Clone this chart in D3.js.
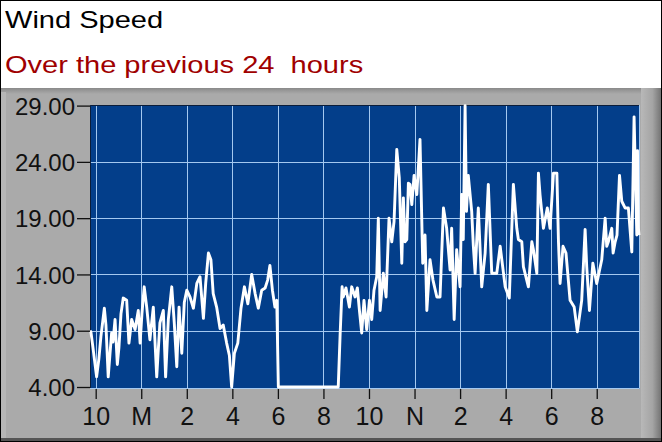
<!DOCTYPE html>
<html>
<head>
<meta charset="utf-8">
<script src="https://cdn.jsdelivr.net/npm/d3@7"></script>
<style>
  body { margin: 0; background: #ffffff; }
  text { font-family: "Liberation Sans", Arial, sans-serif; white-space: pre; }
</style>
</head>
<body>
<div id="graph_plot"></div>
<script>
// hours after 10 PM (negative = before 10 PM)
var hours = [-0.25, -0.21, -0.12, 0.04, 0.14, 0.23, 0.38, 0.45, 0.55, 0.63, 0.70, 0.76, 0.85, 0.95, 1.02, 1.11,
  1.21, 1.36, 1.46, 1.58, 1.73, 1.87, 1.95, 2.03, 2.13, 2.24, 2.38, 2.53, 2.68, 2.74, 2.82, 2.97, 3.07,
  3.19, 3.34, 3.45, 3.56, 3.66, 3.78, 3.89, 4.00, 4.14, 4.29, 4.44, 4.58, 4.73, 4.83, 4.95, 5.06, 5.16,
  5.31, 5.46, 5.60, 5.75, 5.87, 5.97, 6.09, 6.24, 6.38, 6.53, 6.68, 6.85, 7.00, 7.14, 7.29, 7.44, 7.55,
  7.65, 7.76, 7.87, 7.95, 8.02, 10.65, 10.73, 10.82, 10.87, 10.99, 11.14, 11.24, 11.39, 11.49, 11.58,
  11.68, 11.78, 11.90, 12.02, 12.12, 12.22, 12.34, 12.41, 12.49, 12.63, 12.75, 12.88, 13.00, 13.10,
  13.22, 13.33, 13.44, 13.51, 13.58, 13.66, 13.73, 13.80, 13.88, 13.98, 14.10, 14.24, 14.36, 14.46,
  14.54, 14.68, 14.81, 14.98, 15.12, 15.27, 15.41, 15.56, 15.63, 15.74, 15.85, 16.00, 16.07, 16.14,
  16.22, 16.28, 16.36, 16.51, 16.58, 16.66, 16.80, 16.95, 17.10, 17.24, 17.39, 17.61, 17.76, 17.98,
  18.16, 18.34, 18.49, 18.56, 18.71, 18.78, 19.00, 19.15, 19.22, 19.37, 19.44, 19.51, 19.66, 19.83,
  19.95, 20.10, 20.25, 20.32, 20.39, 20.52, 20.65, 20.83, 21.01, 21.15, 21.34, 21.49, 21.56, 21.68,
  21.83, 22.00, 22.22, 22.37, 22.44, 22.51, 22.66, 22.72, 22.81, 22.89, 23.00, 23.10, 23.25, 23.39,
  23.54, 23.64, 23.76, 23.79, 23.83, 23.86];

var speeds = [9.0, 8.9, 7.5, 4.9, 6.5, 8.5, 11.0, 9.5, 4.9, 7.0, 8.8, 8.0, 10.0, 6.0, 7.5, 10.5,
  11.9, 11.7, 7.9, 10.0, 9.1, 10.8, 7.9, 10.5, 12.9, 11.1, 8.2, 11.1, 4.9, 7.0, 9.7, 10.8, 4.9,
  10.0, 12.9, 9.7, 5.8, 11.1, 7.0, 11.5, 12.6, 12.0, 11.0, 13.2, 13.8, 10.1, 13.2, 15.9, 15.3, 12.3,
  11.1, 9.2, 9.5, 7.9, 6.8, 4.0, 7.0, 7.9, 11.0, 12.9, 11.4, 14.0, 12.3, 11.0, 12.6, 12.8, 13.5,
  14.8, 12.6, 11.1, 11.7, 4.0, 4.0, 8.5, 12.9, 12.0, 12.8, 11.1, 12.9, 12.0, 12.8, 10.8,
  8.8, 11.7, 9.1, 11.7, 10.0, 12.6, 13.8, 19.0, 10.8, 14.1, 12.0, 19.0, 16.9, 18.7,
  25.1, 22.6, 15.0, 20.8, 16.9, 17.1, 22.1, 22.0, 20.2, 22.8, 21.1, 26.0, 15.0, 17.5,
  10.8, 15.3, 13.5, 12.0, 12.0, 19.9, 18.1, 14.4, 18.1, 10.0, 16.2, 12.9, 21.1, 17.1,
  29.0, 19.6, 22.8, 19.6, 16.6, 14.1, 19.9, 12.9, 15.9, 22.0, 14.1, 14.1, 16.5, 12.9,
  11.9, 22.0, 18.1, 17.1, 16.9, 14.7, 12.9, 16.9, 16.2, 14.1, 23.0, 21.1, 18.1, 19.9,
  18.1, 23.0, 23.0, 16.9, 13.2, 16.5, 15.9, 11.7, 11.1, 8.9, 11.7, 18.0, 14.7, 10.8,
  15.0, 13.2, 15.3, 19.0, 16.5, 16.9, 18.1, 15.9, 16.9, 17.5, 22.8, 20.5, 19.9, 19.9,
  16.0, 28.0, 17.5, 25.0, 18.1, 17.5];

var y_ticks = [4, 9, 14, 19, 24, 29];
var x_ticks = [0, 2, 4, 6, 8, 10, 12, 14, 16, 18, 20, 22];
var x_tick_labels = ["10", "M", "2", "4", "6", "8", "10", "N", "2", "4", "6", "8"];

var width = 662, height = 442;
var plot = {left: 90, right: 640, top: 105, bottom: 389};

var svg = d3.select("#graph_plot")
          .append("svg")
          .attr("width", width)
          .attr("height", height);

var defs = svg.append("defs");
// bevel gradients for the grey panel
var gr = defs.append("linearGradient").attr("id", "rightBevel").attr("x1", 0).attr("x2", 1).attr("y1", 0).attr("y2", 0);
gr.append("stop").attr("offset", "0%").attr("stop-color", "#b8b8b8");
gr.append("stop").attr("offset", "55%").attr("stop-color", "#a4a4a4");
gr.append("stop").attr("offset", "100%").attr("stop-color", "#6e6e6e");
var gt = defs.append("linearGradient").attr("id", "topBevel").attr("x1", 0).attr("x2", 0).attr("y1", 0).attr("y2", 1);
gt.append("stop").attr("offset", "0%").attr("stop-color", "#8a8a8a");
gt.append("stop").attr("offset", "100%").attr("stop-color", "#aaaaaa");

// white header
svg.append("rect").attr("width", width).attr("height", 89).attr("fill", "#ffffff");

// grey panel round the plot
svg.append("rect").attr("y", 88).attr("width", width).attr("height", height - 88).attr("fill", "#aaaaaa");
svg.append("rect").attr("y", 88).attr("width", width).attr("height", 6).attr("fill", "url(#topBevel)");
svg.append("rect").attr("x", 641).attr("y", 88).attr("width", 21).attr("height", height - 88).attr("fill", "url(#rightBevel)");
svg.append("rect").attr("x", 1).attr("y", 92).attr("width", 5).attr("height", height - 96).attr("fill", "#b6b6b6");
svg.append("rect").attr("y", height - 4).attr("width", width).attr("height", 4).attr("fill", "#555555");

// titles (the original font is drawn a little wider)
svg.append("text")
   .attr("transform", "translate(5,28.3) scale(1.21,1)")
   .attr("font-size", "24px")
   .attr("fill", "#000000")
   .text("Wind Speed");
svg.append("text")
   .attr("transform", "translate(5,72.5) scale(1.21,1)")
   .attr("font-size", "24px")
   .attr("fill", "#a00000")
   .text("Over the previous 24  hours");

// scales
var x_scale = d3.scaleLinear().domain([-0.25, 23.9]).range([plot.left, plot.right]);
var y_scale = d3.scaleLinear().domain([4, 29]).range([387, 105.6]);

// blue plot area
svg.append("rect")
    .attr("x", plot.left).attr("y", plot.top)
    .attr("width", plot.right - plot.left).attr("height", plot.bottom - plot.top)
    .attr("fill", "#033e8a");

// grid lines
svg.append("g").selectAll("line")
    .data(x_ticks).enter().append("line")
    .attr("x1", function(d) { return Math.round(x_scale(d)) + 0.5; })
    .attr("x2", function(d) { return Math.round(x_scale(d)) + 0.5; })
    .attr("y1", plot.top).attr("y2", plot.bottom)
    .attr("stroke", "#a4c8f0").attr("stroke-width", 1);
svg.append("g").selectAll("line")
    .data(y_ticks.slice(1, -1)).enter().append("line")
    .attr("y1", function(d) { return Math.round(y_scale(d)) + 0.5; })
    .attr("y2", function(d) { return Math.round(y_scale(d)) + 0.5; })
    .attr("x1", plot.left).attr("x2", plot.right)
    .attr("stroke", "#a4c8f0").attr("stroke-width", 1);

// sunken border of the plot area
svg.append("path").attr("d", `M${plot.left + 0.5},${plot.bottom} V${plot.top + 0.5} H${plot.right}`)
    .attr("fill", "none").attr("stroke", "#0b1d3a").attr("stroke-width", 1);
svg.append("path").attr("d", `M${plot.left},${plot.bottom - 0.5} H${plot.right - 0.5} V${plot.top}`)
    .attr("fill", "none").attr("stroke", "#a4c8f0").attr("stroke-width", 1);

// the wind speed trace
var data = hours.map(function(h, i) { return [h, speeds[i]]; });
var line = d3.line()
    .x(function(d) { return x_scale(d[0]); })
    .y(function(d) { return y_scale(d[1]); });
svg.append("path")
    .datum(data)
    .attr("d", line)
    .attr("fill", "none")
    .attr("stroke", "#ffffff")
    .attr("stroke-width", 2.9)
    .attr("stroke-linejoin", "round");

// y axis
var y_axis = svg.append("g")
    .attr("transform", `translate(${plot.left}, 0)`)
    .call(d3.axisLeft(y_scale).tickValues(y_ticks).tickSize(13).tickPadding(2)
          .tickFormat(function(d) { return d3.format(".2f")(d); }));
y_axis.select(".domain").remove();
y_axis.selectAll("line").attr("stroke", "#111111").attr("stroke-width", 1.3);
y_axis.selectAll("text")
    .attr("font-size", "24px")
    .attr("font-family", "'Liberation Sans', Arial, sans-serif")
    .attr("fill", "#111111")
    .attr("dy", "0.36em");

// x axis
var x_axis = svg.append("g")
    .attr("transform", `translate(0, ${plot.bottom})`)
    .call(d3.axisBottom(x_scale).tickValues(x_ticks).tickSize(10).tickPadding(18)
          .tickFormat(function(d, i) { return x_tick_labels[i]; }));
x_axis.select(".domain").remove();
x_axis.selectAll("line").attr("stroke", "#111111").attr("stroke-width", 1.3);
x_axis.selectAll("text")
    .attr("font-size", "25px")
    .attr("font-family", "'Liberation Sans', Arial, sans-serif")
    .attr("fill", "#111111")
    .attr("y", 36)
    .attr("dy", "0");

// outer frame
svg.append("rect").attr("x", 0.5).attr("y", 0.5).attr("width", width - 1).attr("height", height - 1)
    .attr("fill", "none").attr("stroke", "#000000");
</script>
</body>
</html>
